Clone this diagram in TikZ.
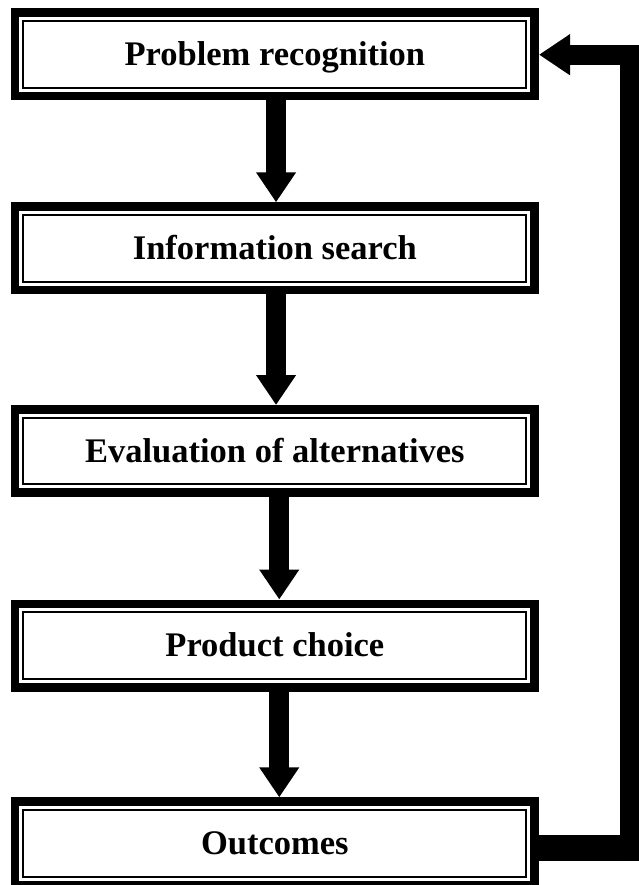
\documentclass[tikz,border=0pt]{standalone}
\usepackage{fontspec}
\setmainfont{Liberation Serif}
\usetikzlibrary{arrows.meta}
\tikzset{
  stagebox/.style={draw=black, fill=white, line width=8.6pt, minimum width=519.7pt,
    minimum height=83.4pt, inner sep=0pt, text height=22.8pt, text depth=0pt,
    font=\fontsize{34.5}{40}\selectfont\bfseries,
    path picture={\draw[line width=2pt]
      ([shift={(8.4pt,8.4pt)}]path picture bounding box.south west) rectangle
      ([shift={(-8.4pt,-8.4pt)}]path picture bounding box.north east);}},
  flowarrow/.style={line width=20pt, -{Triangle[width=38pt,length=30pt]}},
}
\begin{document}
\begin{tikzpicture}[x=1pt,y=-1pt]
\clip (0,0) rectangle (639,885);
\fill[white] (0,0) rectangle (639,885);
\node[stagebox] (p) at (274.85,54.5) {Problem recognition};
\node[stagebox] (i) at (274.85,248.3) {Information search};
\node[stagebox] (e) at (274.85,451) {Evaluation of alternatives};
\node[stagebox] (c) at (274.85,645.5) {Product choice};
\node[stagebox] (o) at (274.85,843.3) {Outcomes};
\draw[flowarrow] ([xshift=1.2pt]p.south) -- ([xshift=1.2pt]i.north);
\draw[flowarrow] ([xshift=1.2pt]i.south) -- ([xshift=1.2pt]e.north);
\draw[flowarrow] ([xshift=4.4pt]e.south) -- ([xshift=4.4pt]c.north);
\draw[flowarrow] ([xshift=4.4pt]c.south) -- ([xshift=4.4pt]o.north);
\coordinate (fbb) at (645,848);
\coordinate (fbl) at (629.5,861);
\coordinate (fbt) at (629.5,54.7);
\draw[line width=26pt] ([yshift=-4.7pt]o.east) -- (fbb);
\draw[line width=20pt, line join=miter, -{Triangle[width=39pt,length=31pt]}]
  (fbl) -- (fbt) -- ([yshift=-0.2pt]p.east);
\end{tikzpicture}
\end{document}
